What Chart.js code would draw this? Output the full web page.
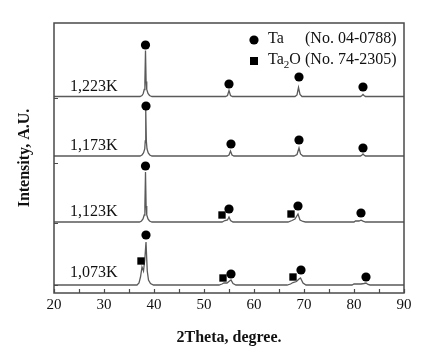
<!DOCTYPE html>
<html>
<head>
<meta charset="utf-8">
<script src="https://cdn.jsdelivr.net/npm/chart.js@4.4.1/dist/chart.umd.min.js"></script>
<style>
  html, body { margin: 0; padding: 0; background: #ffffff; }
  #wrap { width: 431px; height: 356px; position: relative; }
</style>
</head>
<body>
<div id="wrap"><canvas id="c" width="431" height="356"></canvas></div>
<script>
// ---- data ----
// Profiles: [2theta, intensity above the trace baseline]
const k1073 = [[20,0],[36.6,0],[37.0,2],[37.3,8],[37.6,18],[37.9,14],[38.15,25],[38.4,43],[38.65,14],[38.9,5],[39.3,1.5],[39.9,0],
  [53.0,0],[53.6,1],[54.0,2],[54.6,2],[55.1,4],[55.4,5],[55.8,1.5],[56.4,0],
  [66.6,0],[67.3,1],[67.8,2.5],[68.5,3.5],[69.0,6],[69.3,7],[69.8,2],[70.4,0],
  [79.6,0],[80.0,1],[81.4,1],[82.0,1.5],[82.4,2],[82.8,0.5],[83.2,0],[90,0]];
const k1123 = [[20,0],[37.1,0],[37.5,1],[37.8,3],[38.05,7],[38.18,16],[38.3,50],[38.42,16],[38.55,7],[38.8,3],[39.1,1],[39.6,0],
  [53.6,0],[54.2,1.5],[54.7,2],[55.0,5],[55.3,1.5],[55.8,0],
  [66.8,0],[67.6,1.5],[68.2,3],[68.8,8],[69.2,2],[69.8,0.5],[70.3,0],
  [80.0,0],[80.3,1],[81.0,1],[81.4,1.8],[81.8,0.8],[82.3,0],[90,0]];
const k1173 = [[20,0],[37.2,0],[37.6,1],[37.9,3],[38.15,7],[38.25,15],[38.35,46],[38.47,15],[38.6,7],[38.85,3],[39.15,1],[39.6,0],
  [54.6,0],[55.0,1],[55.3,5],[55.6,1],[56.0,0],
  [68.0,0],[68.6,1.5],[69.0,8],[69.3,2],[69.8,0],
  [81.3,0],[81.6,1],[81.8,2],[82.0,1],[82.3,0],[90,0]];
const k1223 = [[20,0],[37.2,0],[37.6,1],[37.85,3],[38.05,7],[38.18,15],[38.3,46],[38.42,15],[38.55,7],[38.8,3],[39.1,1],[39.6,0],
  [54.3,0],[54.7,1],[55.0,6],[55.3,1],[55.7,0],
  [68.2,0],[68.6,1.5],[68.9,9],[69.2,2],[69.6,0],
  [81.3,0],[81.6,1],[81.8,2],[82.0,1],[82.3,0],[90,0]];

const seriesProfiles = [k1073, k1123, k1173, k1223];
const seriesNames = ['1,073K', '1,123K', '1,173K', '1,223K'];
const seriesOffsets = [8, 71, 137, 196.5];     // vertical stacking of the patterns
const seriesLabelY = [16, 77, 143, 202];        // label baseline (data units)
const seriesLabelX = 23.2;

// Phase markers [2theta, y]
const taMarks = [[38.3,248],[55.0,209],[69.0,216],[81.8,206],
  [38.4,187],[55.4,149],[69.0,153],[81.8,145],
  [38.3,127],[55.0,84],[68.8,87],[81.4,80],
  [38.4,58],[55.4,19],[69.4,23],[82.4,16]];
const ta2oMarks = [[53.6,78],[67.4,79],[37.4,32],[53.8,15],[67.8,16]];

const xTickValues = [20, 30, 40, 50, 60, 70, 80, 90];
const xMinorTicks = [25, 35, 45, 55, 65, 75, 85];
const yTickValues = [8, 70, 130, 195];
const legendRows = [
  { sym: 'circle', name: 'Ta', sub: '', after: '', ref: '(No. 04-0788)' },
  { sym: 'square', name: 'Ta', sub: '2', after: 'O', ref: '(No. 74-2305)' }
];

// ---- chart ----
const SERIF = "'Liberation Serif', 'Times New Roman', serif";
const LINE = '#5a5a5a';

const datasets = [];
datasets.push({
  label: 'Ta', data: taMarks.map(p => ({x: p[0], y: p[1]})),
  pointStyle: 'circle', pointRadius: 4.6, backgroundColor: '#000', borderColor: '#000',
  borderWidth: 0, showLine: false, order: 0
});
datasets.push({
  label: 'Ta2O', data: ta2oMarks.map(p => ({x: p[0], y: p[1]})),
  pointStyle: 'rect', pointRadius: 5.2, backgroundColor: '#000', borderColor: '#000',
  borderWidth: 0, showLine: false, order: 0
});
seriesProfiles.forEach((prof, i) => {
  datasets.push({
    label: seriesNames[i],
    data: prof.map(p => ({x: p[0], y: p[1] + seriesOffsets[i]})),
    showLine: true, pointRadius: 0, borderColor: LINE, borderWidth: 1.3,
    tension: 0, order: 1
  });
});

const decor = {
  id: 'decor',
  afterDraw(chart) {
    const {ctx, chartArea: a, scales: {x, y}} = chart;
    ctx.save();
    // frame
    ctx.strokeStyle = '#4a4a4a';
    ctx.lineWidth = 1.5;
    ctx.strokeRect(a.left, a.top, a.right - a.left, a.bottom - a.top);
    // inward ticks
    ctx.lineWidth = 1.2;
    ctx.beginPath();
    xTickValues.concat(xMinorTicks).forEach(v => {
      const px = Math.round(x.getPixelForValue(v)) + 0.5;
      ctx.moveTo(px, a.bottom); ctx.lineTo(px, a.bottom - 4);
    });
    yTickValues.forEach(v => {
      const py = Math.round(y.getPixelForValue(v)) + 0.5;
      ctx.moveTo(a.left, py); ctx.lineTo(a.left + 4, py);
    });
    ctx.stroke();
    // series labels
    ctx.fillStyle = '#111';
    ctx.font = '16px ' + SERIF;
    ctx.textBaseline = 'alphabetic';
    ctx.textAlign = 'left';
    seriesNames.forEach((n, i) => {
      ctx.fillText(n, x.getPixelForValue(seriesLabelX), y.getPixelForValue(seriesLabelY[i]));
    });
    // legend
    const lx = 254, ly0 = 43, dy = 21, tx = 268, rx = 305;
    legendRows.forEach((r, i) => {
      const by = ly0 + i * dy;
      ctx.fillStyle = '#000';
      if (r.sym === 'circle') {
        ctx.beginPath(); ctx.arc(lx, by - 3, 4.6, 0, Math.PI * 2); ctx.fill();
      } else {
        ctx.fillRect(lx - 4, by - 7, 8, 8);
      }
      ctx.fillStyle = '#111';
      ctx.font = '16px ' + SERIF;
      ctx.fillText(r.name, tx, by);
      let cx = tx + ctx.measureText(r.name).width;
      if (r.sub) {
        ctx.font = '11px ' + SERIF;
        ctx.fillText(r.sub, cx, by + 4);
        cx += ctx.measureText(r.sub).width;
        ctx.font = '16px ' + SERIF;
      }
      if (r.after) ctx.fillText(r.after, cx, by);
      ctx.fillText(r.ref, rx, by);
    });
    ctx.restore();
  }
};

new Chart(document.getElementById('c'), {
  type: 'scatter',
  data: { datasets },
  options: {
    responsive: false,
    animation: false,
    devicePixelRatio: 1,
    layout: { padding: { left: 0, right: 27, top: 23, bottom: 0 } },
    plugins: { legend: { display: false }, tooltip: { enabled: false } },
    scales: {
      x: {
        type: 'linear', min: 20, max: 90,
        afterBuildTicks(s) { s.ticks = xTickValues.map(v => ({ value: v })); },
        afterFit(s) { s.height = 63; },
        grid: { display: false, drawTicks: false },
        border: { display: false },
        ticks: { color: '#111', font: { family: SERIF, size: 15 }, padding: 3, maxRotation: 0 },
        title: { display: true, text: '2Theta, degree.', color: '#111',
          font: { family: SERIF, size: 16, weight: 'bold' }, padding: { top: 0, bottom: 9 } }
      },
      y: {
        type: 'linear', min: 0, max: 270,
        afterBuildTicks(s) { s.ticks = yTickValues.map(v => ({ value: v })); },
        afterFit(s) { s.width = 54; },
        grid: { display: false, drawTicks: false },
        border: { display: false },
        ticks: { display: false },
        title: { display: true, text: 'Intensity, A.U.', color: '#111',
          font: { family: SERIF, size: 16, weight: 'bold' }, padding: { top: 15, bottom: 0 } }
      }
    }
  },
  plugins: [decor]
});
</script>
</body>
</html>
